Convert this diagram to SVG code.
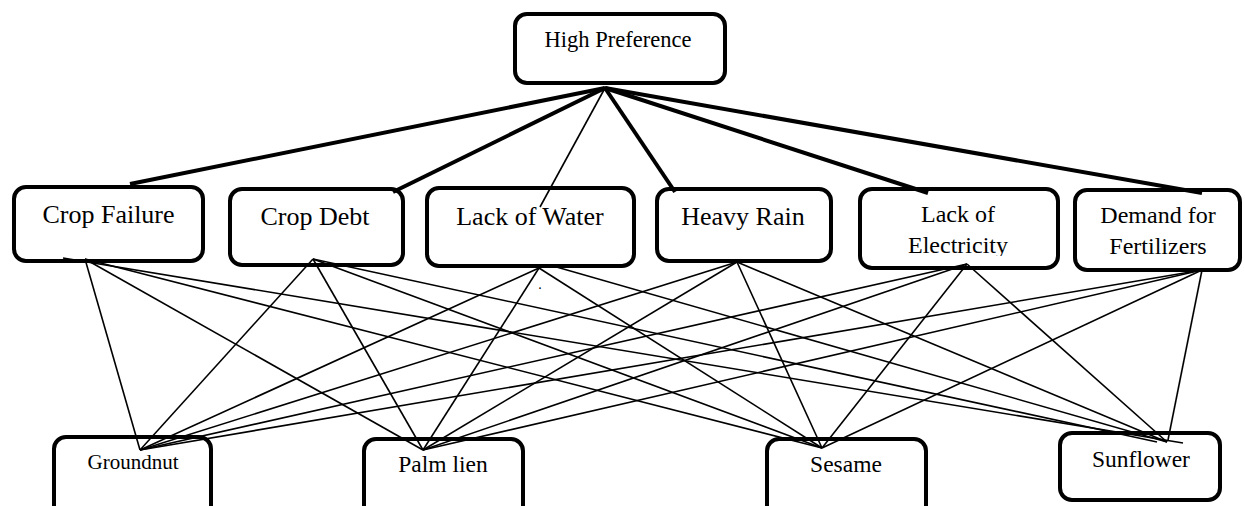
<svg xmlns="http://www.w3.org/2000/svg" width="1245" height="506" viewBox="0 0 1245 506">
<style>
.box{fill:#fff;stroke:#000;stroke-width:4}
.t{font-family:'Liberation Serif','DejaVu Serif',serif;fill:#000;text-anchor:middle}
.thick{stroke:#000;stroke-width:4;fill:none;stroke-linecap:butt}
.thin{stroke:#000;stroke-width:1.6;fill:none}
</style>
<defs>
<clipPath id="clipLE"><rect x="858" y="187" width="202" height="69"/></clipPath>
</defs>
<rect width="1245" height="506" fill="#fff"/>
<g id="high-preference">
<rect class="box" x="515" y="14" width="210" height="69" rx="12"/>
<text class="t" font-family="Liberation Serif, serif" x="618" y="47" font-size="22.5">High Preference</text>
</g>
<g id="crop-failure">
<rect class="box" x="14" y="187" width="189" height="74" rx="12"/>
<text class="t" font-family="Liberation Serif, serif" x="108.5" y="223" font-size="26">Crop Failure</text>
</g>
<g id="crop-debt">
<rect class="box" x="230" y="189" width="173" height="76" rx="12"/>
<text class="t" font-family="Liberation Serif, serif" x="315" y="225" font-size="26">Crop Debt</text>
</g>
<g id="lack-of-water">
<rect class="box" x="427" y="188" width="207" height="78" rx="12"/>
<text class="t" font-family="Liberation Serif, serif" x="530" y="225" font-size="26">Lack of Water</text>
<text class="t" font-family="Liberation Serif, serif" x="540" y="289" font-size="14">.</text>
</g>
<g id="heavy-rain">
<rect class="box" x="657" y="189" width="174" height="72" rx="12"/>
<text class="t" font-family="Liberation Serif, serif" x="743" y="225" font-size="26">Heavy Rain</text>
</g>
<g id="lack-of-electricity">
<rect class="box" x="860" y="189" width="198" height="79" rx="12"/>
<g clip-path="url(#clipLE)">
<text class="t" font-family="Liberation Serif, serif" x="958" y="222" font-size="24">Lack of</text>
<text class="t" font-family="Liberation Serif, serif" x="958" y="253" font-size="24">Electricity</text>
</g>
</g>
<g id="demand-for-fertilizers">
<rect class="box" x="1075" y="190" width="165" height="80" rx="12"/>
<text class="t" font-family="Liberation Serif, serif" x="1158" y="223" font-size="24">Demand for</text>
<text class="t" font-family="Liberation Serif, serif" x="1158" y="254" font-size="24">Fertilizers</text>
</g>
<g id="groundnut">
<rect class="box" x="54" y="437" width="157" height="100" rx="12"/>
<text class="t" font-family="Liberation Serif, serif" x="133" y="469" font-size="21">Groundnut</text>
</g>
<g id="palm-lien">
<rect class="box" x="364" y="439" width="159" height="100" rx="12"/>
<text class="t" font-family="Liberation Serif, serif" x="443" y="472" font-size="23.5">Palm lien</text>
</g>
<g id="sesame">
<rect class="box" x="767" y="439" width="159" height="100" rx="12"/>
<text class="t" font-family="Liberation Serif, serif" x="846" y="472" font-size="23.5">Sesame</text>
</g>
<g id="sunflower">
<rect class="box" x="1060" y="433" width="160" height="67" rx="12"/>
<text class="t" font-family="Liberation Serif, serif" x="1141" y="467" font-size="23.5">Sunflower</text>
</g>
<g id="connectors">
<line class="thick" x1="605" y1="88" x2="130" y2="184"/>
<line class="thick" x1="605" y1="88" x2="393" y2="192"/>
<line class="thin" x1="605" y1="88" x2="540" y2="207"/>
<line class="thick" x1="605" y1="88" x2="675" y2="192"/>
<line class="thick" x1="605" y1="88" x2="928" y2="193"/>
<line class="thick" x1="605" y1="88" x2="1202" y2="193"/>
<line class="thin" x1="85" y1="259" x2="140" y2="450"/>
<line class="thin" x1="85" y1="259" x2="423" y2="450"/>
<line class="thin" x1="85" y1="259" x2="822" y2="448"/>
<line class="thin" x1="63" y1="258" x2="1183" y2="443"/>
<line class="thin" x1="313" y1="259" x2="140" y2="450"/>
<line class="thin" x1="313" y1="259" x2="423" y2="450"/>
<line class="thin" x1="313" y1="259" x2="822" y2="448"/>
<line class="thin" x1="313" y1="259" x2="1157" y2="442"/>
<line class="thin" x1="539" y1="268" x2="140" y2="450"/>
<line class="thin" x1="539" y1="268" x2="423" y2="450"/>
<line class="thin" x1="539" y1="268" x2="822" y2="448"/>
<line class="thin" x1="553" y1="266" x2="1167" y2="442"/>
<line class="thin" x1="737" y1="262" x2="140" y2="450"/>
<line class="thin" x1="737" y1="262" x2="423" y2="450"/>
<line class="thin" x1="737" y1="262" x2="822" y2="448"/>
<line class="thin" x1="737" y1="262" x2="1167" y2="442"/>
<line class="thin" x1="967" y1="264" x2="140" y2="450"/>
<line class="thin" x1="967" y1="264" x2="423" y2="450"/>
<line class="thin" x1="967" y1="264" x2="822" y2="448"/>
<line class="thin" x1="967" y1="264" x2="1167" y2="442"/>
<line class="thin" x1="1202" y1="270" x2="140" y2="450"/>
<line class="thin" x1="1202" y1="270" x2="423" y2="450"/>
<line class="thin" x1="1202" y1="270" x2="822" y2="448"/>
<line class="thin" x1="1202" y1="270" x2="1168" y2="440"/>
</g>
</svg>
